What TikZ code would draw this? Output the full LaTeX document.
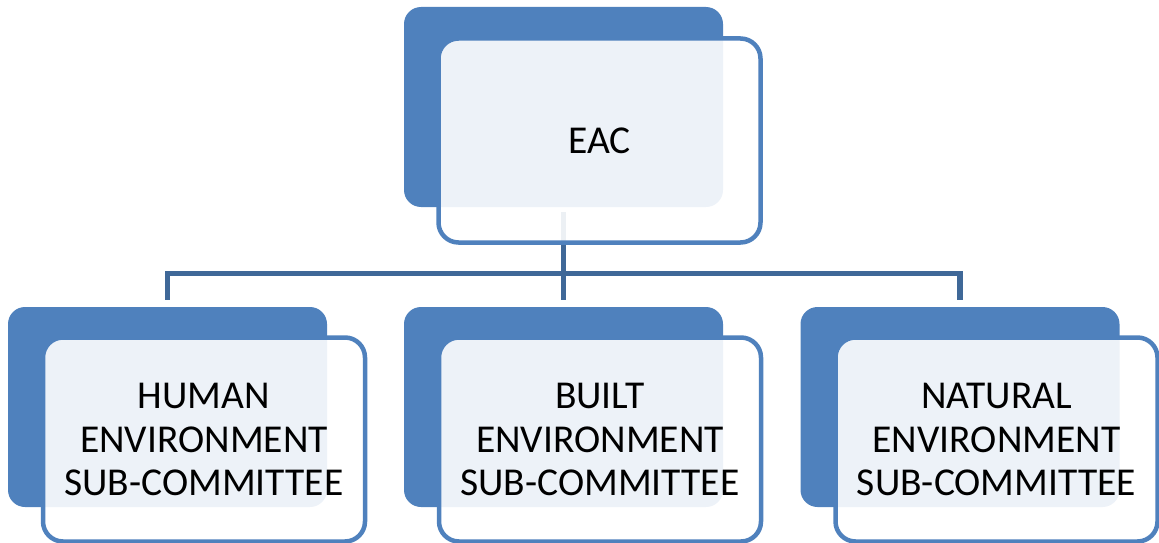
\documentclass[tikz,border=0pt]{standalone}
\usepackage{fontspec}
\setmainfont{Carlito}
\usepackage{tikz}
\usetikzlibrary{positioning}
\usetikzlibrary{backgrounds}

\definecolor{accent}{HTML}{4F81BD}
\definecolor{linkblue}{HTML}{3F6898}

\begin{document}
\begin{tikzpicture}[x=1pt, y=-1pt,
			back/.style={fill=accent, rounded corners=17pt, minimum width=319pt, minimum height=200pt, inner sep=0pt},
			front/.style={draw=accent, line width=4.5pt, fill=white, fill opacity=0.9, text opacity=1, rounded corners=20pt, minimum width=322pt, minimum height=204pt, inner sep=0pt, font=\fontsize{39.5}{43.5}\selectfont},
			conn/.style={draw=linkblue, line width=5.5pt},
			every text node part/.style={align=center}]
			\useasboundingbox (0, 0) rectangle (1159, 543);
			
			\coordinate (bus) at (563.5, 273.5);
			
			\node[back](eac) at (563.5, 107) {};
			\node[back](human) at (167.5, 407) {};
			\node[back](built) at (563.5, 407) {};
			\node[back](natural) at (960, 407) {};
			
			\draw[conn] ([yshift=-5pt]eac.south) -- (bus);
			\draw[conn] ([yshift=7pt]human.north) |- (bus) -| ([yshift=7pt]natural.north);
			\draw[conn] (bus) -- ([yshift=7pt]built.north);
			
			\node[front](eacfront) at (599.5, 140.5) {EAC};
			\node[front](humanfront) at (204, 439.5) {HUMAN \\ ENVIRONMENT \\ SUB-COMMITTEE};
			\node[front](builtfront) at (600, 439.5) {BUILT \\ ENVIRONMENT \\ SUB-COMMITTEE};
			\node[front](naturalfront) at (996.5, 439.5) {NATURAL \\ ENVIRONMENT \\ SUB-COMMITTEE};
\end{tikzpicture}
\end{document}
